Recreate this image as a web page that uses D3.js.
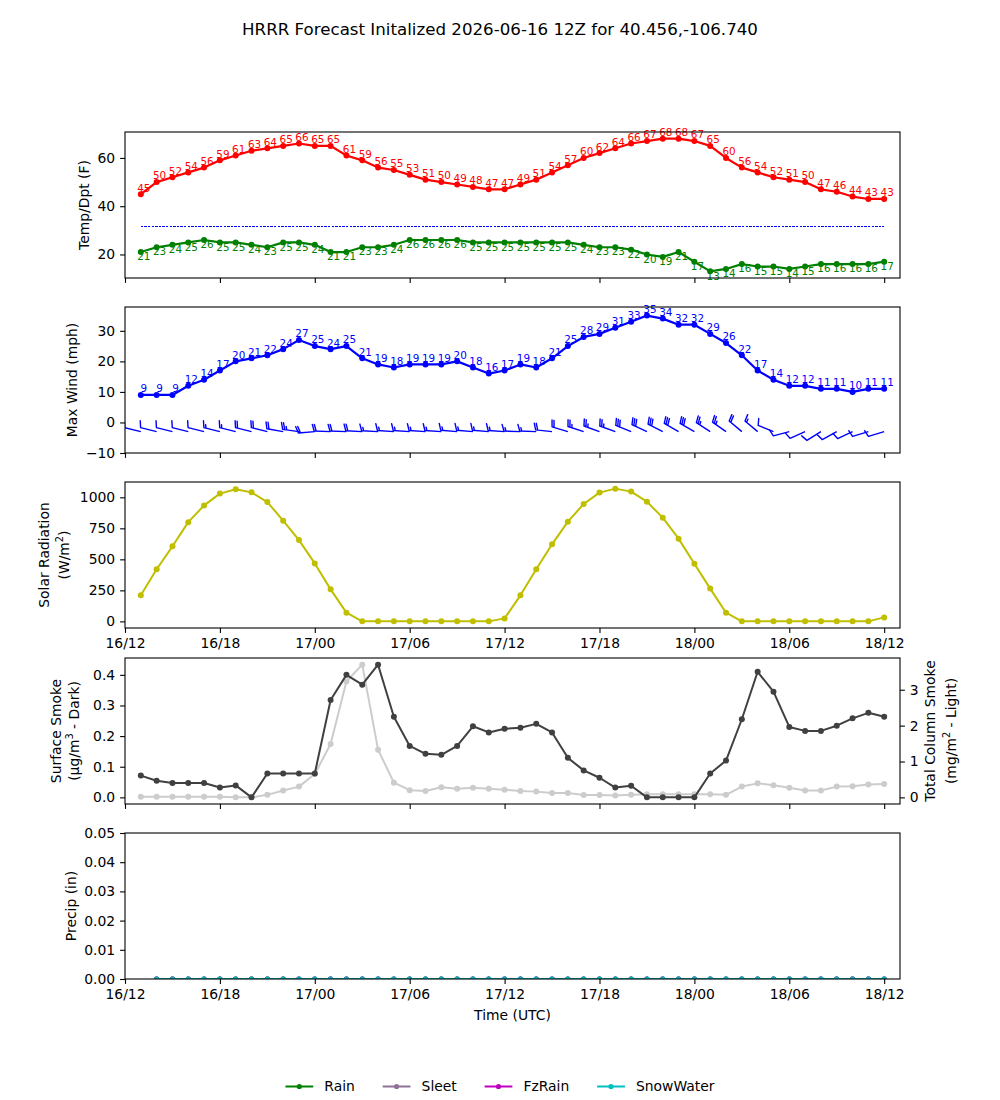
<!DOCTYPE html>
<html><head><meta charset="utf-8">
<script src="https://cdn.jsdelivr.net/npm/d3@7"></script>
<style>
body{margin:0;background:#fff}
text{font-family:"DejaVu Sans",sans-serif}
</style></head>
<body><svg id="c" width="1000" height="1100"></svg>
<script>
// ---------------- DATA ----------------
const initTime = new Date(Date.UTC(2026, 5, 16, 12));
const titleText = "HRRR Forecast Initalized 2026-06-16 12Z for 40.456,-106.740";
const tickLabels = ["16/12","16/18","17/00","17/06","17/12","17/18","18/00","18/06","18/12"];
const freezeLine = 32;

const temp = [45,50,52,54,56,59,61,63,64,65,66,65,65,61,59,56,55,53,51,50,49,48,47,47,
              49,51,54,57,60,62,64,66,67,68,68,67,65,60,56,54,52,51,50,47,46,44,43,43];
const dewp = [21,23,24,25,26,25,25,24,23,25,25,24,21,21,23,23,24,26,26,26,26,25,25,25,
              25,25,25,25,24,23,23,22,20,19,21,17,13,14,16,15,15,14,15,16,16,16,16,17];
const windSpd = [9,9,9,12,14,17,20,21,22,24,27,25,24,25,21,19,18,19,19,19,20,18,16,17,
                 19,18,21,25,28,29,31,33,35,34,32,32,29,26,22,17,14,12,12,11,11,10,11,11];
const windDir = [284,284,284,284,284,284,284,284,284,280,278,265,272,272,273,273,274,274,274,274,275,275,275,274,
                 272,272,276,287,288,290,290,292,295,297,300,300,303,305,310,310,292,255,246,238,241,245,253,253];
const solar = [210,420,605,800,935,1030,1065,1040,962,812,655,467,258,70,0,0,0,0,0,0,0,0,0,24,
               210,420,621,804,946,1038,1070,1046,965,836,667,465,264,70,0,0,0,0,0,0,0,0,0,32];
const smokeSfc = [0.071,0.054,0.047,0.047,0.047,0.032,0.039,0.0,0.078,0.078,0.078,0.078,0.318,0.400,0.368,0.433,0.263,0.168,0.142,0.139,0.168,0.232,0.212,0.224,
                  0.227,0.240,0.212,0.129,0.088,0.064,0.032,0.038,0.0,0.0,0.0,0.0,0.078,0.120,0.255,0.410,0.345,0.230,0.217,0.217,0.234,0.258,0.276,0.263];
const smokeCol = [0.02,0.02,0.02,0.02,0.02,0.02,0.0,0.0,0.07,0.19,0.30,0.65,1.49,3.23,3.70,1.33,0.41,0.20,0.18,0.28,0.24,0.27,0.24,0.21,
                  0.18,0.16,0.12,0.12,0.065,0.065,0.05,0.07,0.09,0.09,0.09,0.09,0.09,0.07,0.30,0.39,0.34,0.27,0.19,0.19,0.30,0.31,0.36,0.37];
const rain      = [0,0,0,0,0,0,0,0,0,0,0,0,0,0,0,0,0,0,0,0,0,0,0,0,0,0,0,0,0,0,0,0,0,0,0,0,0,0,0,0,0,0,0,0,0,0,0];
const sleet     = [0,0,0,0,0,0,0,0,0,0,0,0,0,0,0,0,0,0,0,0,0,0,0,0,0,0,0,0,0,0,0,0,0,0,0,0,0,0,0,0,0,0,0,0,0,0,0];
const fzrain    = [0,0,0,0,0,0,0,0,0,0,0,0,0,0,0,0,0,0,0,0,0,0,0,0,0,0,0,0,0,0,0,0,0,0,0,0,0,0,0,0,0,0,0,0,0,0,0];
const snowWater = [0,0,0,0,0,0,0,0,0,0,0,0,0,0,0,0,0,0,0,0,0,0,0,0,0,0,0,0,0,0,0,0,0,0,0,0,0,0,0,0,0,0,0,0,0,0,0];
const precipNames = ["Rain","Sleet","FzRain","SnowWater"];

const tempTicks = [20,40,60];
const windTicks = [-10,0,10,20,30];
const solarTicks = [0,250,500,750,1000];
const smokeTicks = [0,0.1,0.2,0.3,0.4];
const colTicks = [0,1,2,3];
const precipTicks = [0,0.01,0.02,0.03,0.04,0.05];

// ---------------- LAYOUT ----------------
const svg = d3.select("#c");
const X0 = 125, X1 = 900, PH = 146;
const tops = [132, 307, 482, 658, 833];
const FS = 13.9, TICK = 4.9, PAD = 4.9;
const times = temp.map((d, i) => d3.utcHour.offset(initTime, i + 1));
const ptimes = rain.map((d, i) => d3.utcHour.offset(initTime, i + 2));
const x = d3.scaleUtc().domain([initTime, d3.utcHour.offset(initTime, 49)]).range([X0, X1]);
const xTickVals = tickLabels.map((d, i) => d3.utcHour.offset(initTime, i * 6));

svg.append("rect").attr("width", 1000).attr("height", 1100).attr("fill", "#fff");
svg.append("text").attr("x", 500).attr("y", 35).attr("text-anchor", "middle")
  .attr("font-size", 16.67).text(titleText);

const defs = svg.append("defs");
tops.forEach((t, i) => {
  defs.append("clipPath").attr("id", "clip" + i).append("rect")
    .attr("x", X0).attr("y", t).attr("width", X1 - X0).attr("height", PH);
});

function yAxisLeft(g, y, ticks, fmt) {
  const a = g.append("g").attr("transform", `translate(${X0},0)`)
    .call(d3.axisLeft(y).tickValues(ticks).tickFormat(fmt).tickSize(TICK).tickPadding(PAD));
  a.select(".domain").remove();
  a.selectAll("line").attr("stroke", "#000").attr("stroke-width", 1.1);
  a.selectAll("text").attr("font-size", FS).attr("fill", "#000").attr("font-family", "DejaVu Sans");
}
function yAxisRight(g, y, ticks, fmt) {
  const a = g.append("g").attr("transform", `translate(${X1},0)`)
    .call(d3.axisRight(y).tickValues(ticks).tickFormat(fmt).tickSize(TICK).tickPadding(PAD));
  a.select(".domain").remove();
  a.selectAll("line").attr("stroke", "#000").attr("stroke-width", 1.1);
  a.selectAll("text").attr("font-size", FS).attr("fill", "#000").attr("font-family", "DejaVu Sans");
}
function xAxis(g, top, labels) {
  const a = g.append("g").attr("transform", `translate(0,${top + PH})`)
    .call(d3.axisBottom(x).tickValues(xTickVals).tickFormat((d, i) => labels ? tickLabels[i] : "")
      .tickSize(TICK).tickPadding(PAD));
  a.select(".domain").remove();
  a.selectAll("line").attr("stroke", "#000").attr("stroke-width", 1.1);
  if (labels) a.selectAll("text").attr("font-size", FS).attr("fill", "#000").attr("dy", "0.76em").attr("font-family", "DejaVu Sans");
  else a.selectAll("text").remove();
}
function frame(g, top) {
  g.append("rect").attr("x", X0).attr("y", top).attr("width", X1 - X0).attr("height", PH)
    .attr("fill", "none").attr("stroke", "#000").attr("stroke-width", 1.1);
}
function yLabel(g, cx, cy, parts) {
  const t = g.append("text").attr("transform", `translate(${cx},${cy}) rotate(-90)`)
    .attr("text-anchor", "middle").attr("dy", "0.35em").attr("font-size", FS).attr("fill", "#000");
  let raised = false;
  parts.forEach(p => {
    const ts = t.append("tspan").text(p.t);
    if (p.sup) { ts.attr("font-size", FS * 0.7).attr("dy", -FS * 0.42); raised = true; }
    else if (raised) { ts.attr("dy", FS * 0.42); raised = false; }
  });
}
function series(g, clipId, xs, vals, y, color, lw, r) {
  const cg = g.append("g").attr("clip-path", `url(#${clipId})`);
  cg.append("path").datum(vals)
    .attr("d", d3.line().x((d, i) => x(xs[i])).y(d => y(d)))
    .attr("fill", "none").attr("stroke", color).attr("stroke-width", lw).attr("stroke-linejoin", "round");
  cg.selectAll(null).data(vals).join("circle")
    .attr("cx", (d, i) => x(xs[i])).attr("cy", d => y(d)).attr("r", r).attr("fill", color);
}
function valueLabels(g, vals, y, color, above) {
  g.selectAll(null).data(vals).join("text")
    .attr("x", (d, i) => x(times[i]) + 3)
    .attr("y", d => above ? y(d) - 2.6 : y(d) + 8.2)
    .attr("text-anchor", "middle").attr("font-size", 10.4).attr("fill", color)
    .text(d => Math.round(d));
}

// ---------- Panel 1: Temp/Dewpoint ----------
{
  const t = tops[0], g = svg.append("g");
  const y = d3.scaleLinear().domain([10.25, 70.75]).range([t + PH, t]);
  const cg = g.append("g").attr("clip-path", "url(#clip0)");
  cg.append("line").attr("x1", x(times[0])).attr("x2", x(times[times.length - 1]))
    .attr("y1", Math.round(y(freezeLine)) + 0.5).attr("y2", Math.round(y(freezeLine)) + 0.5)
    .attr("stroke", "#0000ff").attr("stroke-width", 1).attr("stroke-dasharray", "2.4,1.2")
    .attr("shape-rendering", "crispEdges");
  series(g, "clip0", times, temp, y, "#ff0000", 2.2, 3);
  series(g, "clip0", times, dewp, y, "#008000", 2.2, 3);
  valueLabels(g, temp, y, "#ff0000", true);
  valueLabels(g, dewp, y, "#008000", false);
  frame(g, t);
  yAxisLeft(g, y, tempTicks, d3.format("d"));
  xAxis(g, t, false);
  yLabel(g, 84, t + PH / 2, [{t: "Temp/Dpt (F)"}]);
}

// ---------- Panel 2: Wind ----------
{
  const t = tops[1], g = svg.append("g");
  const y = d3.scaleLinear().domain([-10, 37.8]).range([t + PH, t]);
  series(g, "clip1", times, windSpd, y, "#0000ff", 2.2, 3);
  valueLabels(g, windSpd, y, "#0000ff", true);
  // wind barbs (matplotlib-style geometry)
  const BL = 16.5;
  function barbPath(cx, cy, dir, spd) {
    const kt = spd * 0.868976;
    let mag = 5 * Math.round(kt / 5);
    const nfull = Math.floor(mag / 10), half = (mag % 10) >= 5;
    const sp = 0.125 * BL, fh = 0.4 * BL, fw = 0.25 * BL;
    const pts = [[0, 0], [0, BL]];
    let off = BL;
    for (let k = 0; k < nfull; k++) { pts.push([0, off], [fh, off + fw / 2], [0, off]); off -= sp; }
    if (half) { if (off === BL) off -= 1.5 * sp; pts.push([0, off], [fh / 2, off + fw / 4], [0, off]); }
    const th = dir * Math.PI / 180;
    const hx = Math.sin(th), hy = -Math.cos(th);
    const rx = -hy, ry = hx;
    return "M" + pts.map(p => [cx + p[0] * rx + p[1] * hx, cy + p[0] * ry + p[1] * hy].map(v => v.toFixed(2)).join(",")).join("L");
  }
  const cg = g.append("g").attr("clip-path", "url(#clip1)");
  cg.selectAll(null).data(windSpd).join("path")
    .attr("d", (d, i) => barbPath(x(times[i]), y(-3), windDir[i], d))
    .attr("fill", "none").attr("stroke", "#0000ff").attr("stroke-width", 1.4).attr("stroke-linejoin", "round");
  frame(g, t);
  yAxisLeft(g, y, windTicks, d3.format("d"));
  xAxis(g, t, false);
  yLabel(g, 72, t + PH / 2, [{t: "Max Wind (mph)"}]);
}

// ---------- Panel 3: Solar ----------
{
  const t = tops[2], g = svg.append("g");
  const y = d3.scaleLinear().domain([-53.5, 1123.5]).range([t + PH, t]);
  series(g, "clip2", times, solar, y, "#bfbf00", 2.0, 3);
  frame(g, t);
  yAxisLeft(g, y, solarTicks, d3.format("d"));
  xAxis(g, t, true);
  yLabel(g, 44, t + PH / 2, [{t: "Solar Radiation"}]);
  yLabel(g, 64, t + PH / 2, [{t: "(W/m"}, {t: "2", sup: true}, {t: ")"}]);
}

// ---------- Panel 4: Smoke ----------
{
  const t = tops[3], g = svg.append("g");
  const y = d3.scaleLinear().domain([-0.0217, 0.455]).range([t + PH, t]);
  const y2 = d3.scaleLinear().domain([-0.185, 3.885]).range([t + PH, t]);
  series(g, "clip3", times, smokeCol, y2, "#cccccc", 2.0, 3);
  series(g, "clip3", times, smokeSfc, y, "#404040", 2.0, 3);
  frame(g, t);
  yAxisLeft(g, y, smokeTicks, d3.format(".1f"));
  yAxisRight(g, y2, colTicks, d3.format("d"));
  xAxis(g, t, false);
  yLabel(g, 56, t + PH / 2, [{t: "Surface Smoke"}]);
  yLabel(g, 74, t + PH / 2, [{t: "(\u03bcg/m"}, {t: "3", sup: true}, {t: " - Dark)"}]);
  yLabel(g, 930, t + PH / 2, [{t: "Total Column Smoke"}]);
  yLabel(g, 951, t + PH / 2, [{t: "(mg/m"}, {t: "2", sup: true}, {t: " - Light)"}]);
}

// ---------- Panel 5: Precip ----------
const precipColors = ["#008000", "#8e7196", "#bf00bf", "#00bfbf"];
{
  const t = tops[4], g = svg.append("g");
  const y = d3.scaleLinear().domain([0, 0.05]).range([t + PH, t]);
  [rain, sleet, fzrain, snowWater].forEach((s, k) => series(g, "clip4", ptimes, s, y, precipColors[k], 2.0, 2.6));
  frame(g, t);
  yAxisLeft(g, y, precipTicks, d3.format(".2f"));
  xAxis(g, t, true);
  yLabel(g, 71, t + PH / 2, [{t: "Precip (in)"}]);
  g.append("text").attr("x", (X0 + X1) / 2).attr("y", 1020).attr("text-anchor", "middle")
    .attr("font-size", FS).text("Time (UTC)");
}

// ---------- Legend ----------
{
  const g = svg.append("g");
  const HL = 27.8, HTP = 11.1, CS = 27.8, ly = 1086.5;
  const items = precipNames.map((n, k) => {
    const tx = g.append("text").attr("font-size", FS).attr("dy", "0.35em").attr("y", ly).text(n);
    return {tx, w: tx.node().getComputedTextLength(), c: precipColors[k]};
  });
  const total = d3.sum(items, d => HL + HTP + d.w) + CS * (items.length - 1);
  let cx = 500 - total / 2;
  items.forEach(it => {
    g.append("line").attr("x1", cx).attr("x2", cx + HL).attr("y1", ly).attr("y2", ly)
      .attr("stroke", it.c).attr("stroke-width", 2);
    g.append("circle").attr("cx", cx + HL / 2).attr("cy", ly).attr("r", 2.6).attr("fill", it.c);
    it.tx.attr("x", cx + HL + HTP);
    cx += HL + HTP + it.w + CS;
  });
}
</script></body></html>
